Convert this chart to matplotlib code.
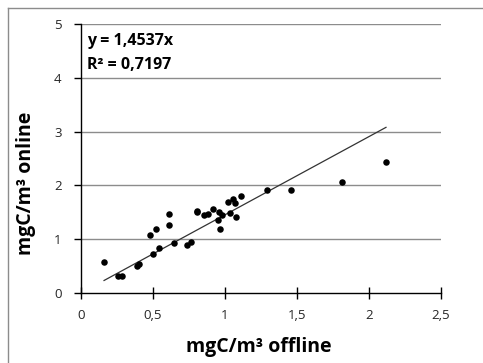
import matplotlib
matplotlib.use('Agg')
import matplotlib.pyplot as plt
import numpy as np

# offline vs online (mgC/m3)
offline = [0.16, 0.255, 0.283, 0.387, 0.403, 0.481, 0.502, 0.521, 0.539, 0.609, 0.609,
           0.648, 0.734, 0.762, 0.803, 0.803, 0.854, 0.884, 0.919, 0.949, 0.96, 0.965,
           0.977, 1.019, 1.035, 1.058, 1.069, 1.074, 1.111, 1.294, 1.46, 1.815, 2.118]
online = [0.576, 0.32, 0.31, 0.51, 0.545, 1.07, 0.72, 1.195, 0.84, 1.46, 1.26,
          0.935, 0.89, 0.94, 1.53, 1.50, 1.45, 1.46, 1.57, 1.36, 1.50, 1.19,
          1.45, 1.70, 1.48, 1.74, 1.67, 1.41, 1.80, 1.91, 1.91, 2.07, 2.43]
slope = 1.4537
r2 = 0.7197
x_ticks = [0, 0.5, 1, 1.5, 2, 2.5]
x_tick_labels = ['0', '0,5', '1', '1,5', '2', '2,5']
y_ticks = [0, 1, 2, 3, 4, 5]

text_color = '#262626'
plt.rcParams['font.family'] = ['Open Sans', 'DejaVu Sans']

fig = plt.figure(figsize=(4.83, 3.63), dpi=100)
ax = fig.add_axes([81/483, 1-293/363, 360/483, 269/363])

ax.set_xlim(0, 2.5)
ax.set_ylim(0, 5)
for y in y_ticks[1:]:
  ax.axhline(y, color='#8c8c8c', lw=1, zorder=0)

x_fit = np.array([min(offline), max(offline)])
ax.plot(x_fit, slope*x_fit, color='#333333', lw=0.9, zorder=2)
ax.scatter(offline, online, s=22, color='black', zorder=3, linewidths=0)

ax.text(6/360, 1-16.7/269, 'y = 1,4537x', transform=ax.transAxes, fontsize=11.5, fontweight='bold',
        color='black', va='center', ha='left')
ax.text(6/360, 1-41/269, 'R² = 0,7197', transform=ax.transAxes, fontsize=11.5, fontweight='bold',
        color='black', va='center', ha='left')

ax.set_xticks(x_ticks)
ax.set_xticklabels(x_tick_labels)
ax.set_yticks(y_ticks)
ax.spines['top'].set_visible(False)
ax.spines['right'].set_visible(False)
ax.spines['left'].set_linewidth(1)
ax.spines['bottom'].set_linewidth(1)
ax.tick_params(axis='x', direction='inout', length=9, width=1, labelsize=9.5, colors='black', labelcolor=text_color, pad=7)
ax.tick_params(axis='y', direction='out', length=5, width=1, labelsize=9.5, colors='black', labelcolor=text_color, pad=9)

fig.text(259/483, 1-347/363, 'mgC/m³ offline', ha='center', va='center', fontsize=14, fontweight='bold')
fig.text(26/483, 1-183/363, 'mgC/m³ online', ha='center', va='center', rotation=90, fontsize=14, fontweight='bold')

# chart area border (left and top edges visible)
fig.add_artist(plt.Line2D([8/483, 8/483], [0, 1-8/363], color='#8c8c8c', lw=1))
fig.add_artist(plt.Line2D([8/483, 1], [1-8/363, 1-8/363], color='#8c8c8c', lw=1))

fig.savefig('out.png', dpi=100)
